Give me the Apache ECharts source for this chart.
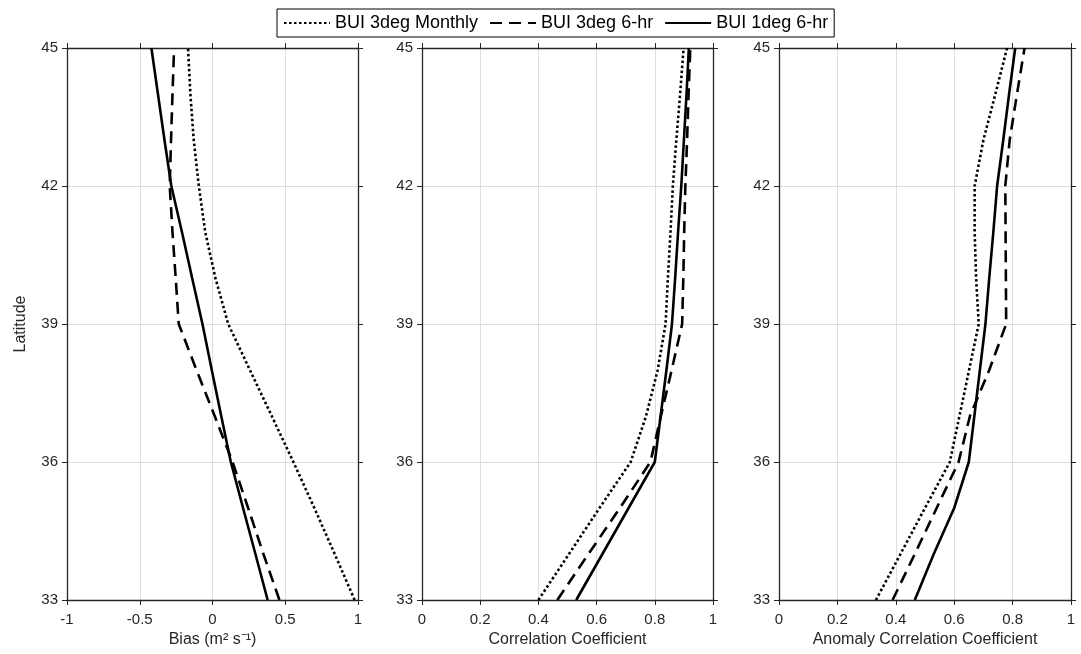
<!DOCTYPE html>
<html>
<head>
<meta charset="utf-8">
<title>BUI verification by latitude</title>
<script src="https://cdn.jsdelivr.net/npm/echarts@6/dist/echarts.min.js"></script>
<style>
  html, body { margin: 0; padding: 0; background: #ffffff; }
  #chart { width: 1081px; height: 654px; }
</style>
</head>
<body>
<div id="chart"></div>
<script>
// Latitude bands (degrees N), shared by all three panels
const latitudes = [33, 34, 35, 36, 37, 38, 39, 40, 41, 42, 43, 44, 45];
const latTicks = [33, 36, 39, 42, 45];

// Series names
const seriesNames = ['BUI 3deg Monthly', 'BUI 3deg 6-hr', 'BUI 1deg 6-hr'];

// Panel 1: bias (m2 s-1)
const biasMonthly = [0.977, 0.84, 0.70, 0.556, 0.407, 0.257, 0.108, 0.02, -0.05, -0.094, -0.129, -0.152, -0.168];
const bias3deg6hr = [0.46, 0.35, 0.245, 0.138, 0.015, -0.11, -0.232, -0.253, -0.275, -0.294, -0.285, -0.275, -0.264];
const bias1deg6hr = [0.379, 0.295, 0.21, 0.126, 0.06, -0.005, -0.069, -0.14, -0.21, -0.283, -0.33, -0.375, -0.42];

// Panel 2: correlation coefficient
const corrMonthly = [0.40, 0.505, 0.61, 0.717, 0.77, 0.81, 0.837, 0.845, 0.854, 0.862, 0.874, 0.887, 0.899];
const corr3deg6hr = [0.465, 0.572, 0.68, 0.785, 0.821, 0.858, 0.894, 0.898, 0.901, 0.905, 0.911, 0.916, 0.922];
const corr1deg6hr = [0.53, 0.62, 0.71, 0.80, 0.82, 0.84, 0.859, 0.87, 0.88, 0.891, 0.90, 0.909, 0.917];

// Panel 3: anomaly correlation coefficient
const accMonthly = [0.332, 0.416, 0.50, 0.585, 0.618, 0.651, 0.684, 0.675, 0.670, 0.670, 0.70, 0.741, 0.781];
const acc3deg6hr = [0.389, 0.465, 0.54, 0.615, 0.654, 0.72, 0.778, 0.777, 0.776, 0.775, 0.79, 0.815, 0.841];
const acc1deg6hr = [0.465, 0.53, 0.60, 0.65, 0.669, 0.688, 0.707, 0.72, 0.734, 0.747, 0.768, 0.788, 0.809];

const panels = [
  { name: 'Bias (m\u00B2 s\u207B\u00B9)', min: -1, max: 1, interval: 0.5,
    values: [biasMonthly, bias3deg6hr, bias1deg6hr], left: 67, width: 291 },
  { name: 'Correlation Coefficient', min: 0, max: 1, interval: 0.2,
    values: [corrMonthly, corr3deg6hr, corr1deg6hr], left: 422, width: 291 },
  { name: 'Anomaly Correlation Coefficient', min: 0, max: 1, interval: 0.2,
    values: [accMonthly, acc3deg6hr, acc1deg6hr], left: 779, width: 292 }
];

const FONT = '"Liberation Sans", Arial, Helvetica, sans-serif';
const AXIS_COLOR = '#262626';
const GRID_COLOR = '#dedede';
const lineTypes = [[2.5, 2.5], [12, 7], 'solid'];

const grids = [], xAxes = [], yAxes = [], series = [];

panels.forEach((p, i) => {
  grids.push({ left: p.left, width: p.width, top: 48, height: 552 });

  const tickStyle = { show: true, inside: false, length: 5, lineStyle: { color: AXIS_COLOR, width: 1 } };
  const lineStyle = { show: true, onZero: false, lineStyle: { color: AXIS_COLOR, width: 1.3 } };

  // bottom x axis with labels and gridlines
  xAxes.push({
    type: 'value', gridIndex: i, position: 'bottom',
    min: p.min, max: p.max, interval: p.interval,
    name: p.name, nameLocation: 'middle', nameGap: 32,
    nameTextStyle: { fontFamily: FONT, fontSize: 16, color: AXIS_COLOR },
    axisLine: lineStyle, axisTick: tickStyle,
    axisLabel: { fontFamily: FONT, fontSize: 15, color: AXIS_COLOR, margin: 12 },
    splitLine: { show: true, lineStyle: { color: GRID_COLOR, width: 1 } }
  });
  // top x axis: box edge with ticks only
  xAxes.push({
    type: 'value', gridIndex: i, position: 'top',
    min: p.min, max: p.max, interval: p.interval,
    axisLine: lineStyle, axisTick: tickStyle,
    axisLabel: { show: false }, splitLine: { show: false }
  });
  // left y axis with labels and gridlines
  yAxes.push({
    type: 'value', gridIndex: i, position: 'left',
    min: latTicks[0], max: latTicks[latTicks.length - 1], interval: latTicks[1] - latTicks[0],
    name: i === 0 ? 'Latitude' : '', nameLocation: 'middle', nameGap: 38, nameRotate: 90,
    nameTextStyle: { fontFamily: FONT, fontSize: 16, color: AXIS_COLOR },
    axisLine: lineStyle, axisTick: tickStyle,
    axisLabel: { fontFamily: FONT, fontSize: 15, color: AXIS_COLOR, margin: 9 },
    splitLine: { show: true, lineStyle: { color: GRID_COLOR, width: 1 } }
  });
  // right y axis: box edge with ticks only
  yAxes.push({
    type: 'value', gridIndex: i, position: 'right',
    min: latTicks[0], max: latTicks[latTicks.length - 1], interval: latTicks[1] - latTicks[0],
    axisLine: lineStyle, axisTick: tickStyle,
    axisLabel: { show: false }, splitLine: { show: false }
  });

  p.values.forEach((vals, k) => {
    series.push({
      name: seriesNames[k], type: 'line',
      xAxisIndex: i * 2, yAxisIndex: i * 2,
      data: vals.map((v, j) => [v, latitudes[j]]),
      symbol: 'none', silent: true, animation: false, z: 3 + k,
      color: '#000000',
      itemStyle: { color: '#000000' },
      lineStyle: { color: '#000000', width: 2.6, type: lineTypes[k], cap: 'butt' }
    });
  });
});

const chart = echarts.init(document.getElementById('chart'), null, { renderer: 'canvas' });
chart.setOption({
  backgroundColor: '#ffffff',
  animation: false,
  legend: {
    data: seriesNames,
    top: 9, left: 277,
    orient: 'horizontal',
    itemWidth: 46, itemHeight: 14, itemGap: 11,
    padding: [5, 6, 5, 6],
    borderColor: '#000000', borderWidth: 1,
    selectedMode: false,
    itemStyle: { opacity: 0 },
    textStyle: { fontFamily: FONT, fontSize: 18, color: '#000000' }
  },
  grid: grids,
  xAxis: xAxes,
  yAxis: yAxes,
  series: series
});
</script>
</body>
</html>
